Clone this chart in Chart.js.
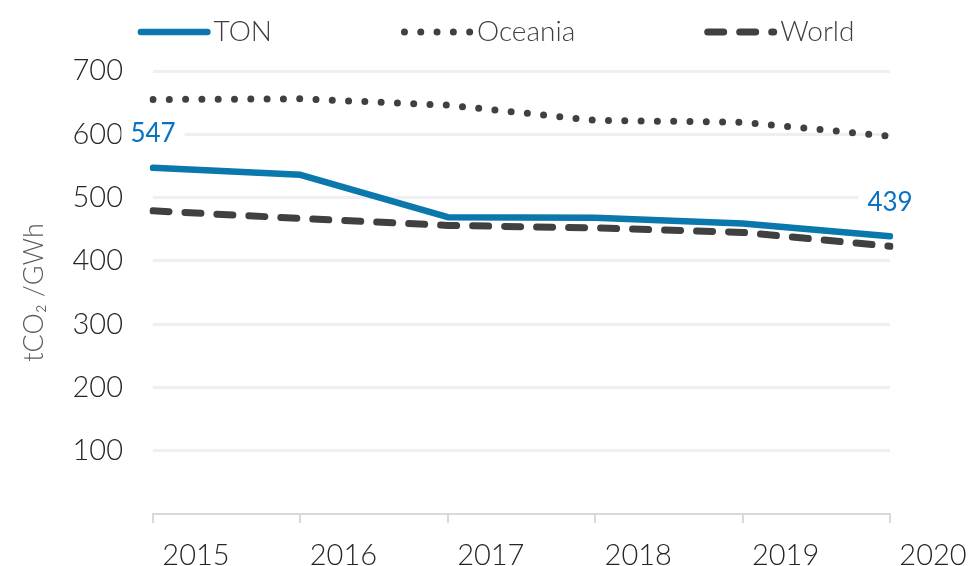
<!DOCTYPE html>
<html>
<head>
<meta charset="utf-8">
<script src="https://cdn.jsdelivr.net/npm/chart.js@4.4.0/dist/chart.umd.min.js"></script>
<style>
  html, body { margin: 0; padding: 0; background: #fff; }
  #wrap { width: 973px; height: 566px; position: relative; }
</style>
</head>
<body>
<div id="wrap"><canvas id="myChart"></canvas></div>
<script>
var years = ['2015', '2016', '2017', '2018', '2019', '2020'];
var ton = [547, 536, 469, 468, 459, 439];
var oceania = [655, 656, 646, 622, 619, 597];
var world = [479, 467, 456, 452, 445, 423];
var labelIdx = [0, 5];   // points of TON that carry a value label

var FONT = 'Lato';

// value labels above the first and last TON point, on a white box
var pointLabels = {
  id: 'pointLabels',
  afterDatasetsDraw: function(chart) {
    var ctx = chart.ctx;
    var meta = chart.getDatasetMeta(0);
    ctx.save();
    ctx.font = '26px ' + FONT;
    ctx.textAlign = 'center';
    ctx.textBaseline = 'middle';
    labelIdx.forEach(function(i) {
      var pt = meta.data[i];
      var txt = String(ton[i]);
      var w = ctx.measureText(txt).width;
      var y = pt.y - 34;
      ctx.fillStyle = '#ffffff';
      ctx.fillRect(pt.x - w / 2 - 9, y - 14, w + 18, 28);
      ctx.fillStyle = '#0a72c2';
      ctx.fillText(txt, pt.x, y);
    });
    ctx.restore();
  }
};

// legend drawn by hand so the sample sits right next to its text
var lineLegend = {
  id: 'lineLegend',
  afterDraw: function(chart) {
    var ctx = chart.ctx;
    var sets = chart.data.datasets;
    var sample = 73, gap = 3, spacing = 129;
    ctx.save();
    ctx.font = '300 28px ' + FONT;
    ctx.textBaseline = 'middle';
    ctx.textAlign = 'left';
    var total = 0;
    sets.forEach(function(ds, i) {
      total += sample + gap + ctx.measureText(ds.label).width + (i ? spacing : 0);
    });
    var x = 496 - total / 2, y = 32;
    sets.forEach(function(ds) {
      var bw = ds.borderWidth;
      ctx.beginPath();
      ctx.strokeStyle = ds.borderColor;
      ctx.lineWidth = bw;
      ctx.lineCap = 'round';
      ctx.setLineDash(ds.borderDash || []);
      ctx.moveTo(x + bw / 2, y);
      ctx.lineTo(x + sample - bw / 2, y);
      ctx.stroke();
      ctx.setLineDash([]);
      ctx.fillStyle = '#404040';
      ctx.fillText(ds.label, x + sample + gap, y);
      x += sample + gap + ctx.measureText(ds.label).width + spacing;
    });
    ctx.restore();
  }
};

new Chart(document.getElementById('myChart'), {
  type: 'line',
  data: {
    labels: years,
    datasets: [
      {
        label: 'TON',
        data: ton,
        borderColor: '#0a77ad',
        borderWidth: 6.5,
        borderCapStyle: 'round',
        borderJoinStyle: 'round',
        pointRadius: 0,
        tension: 0,
        fill: false
      },
      {
        label: 'Oceania',
        data: oceania,
        borderColor: '#404040',
        borderWidth: 7,
        borderDash: [0, 16.3],
        borderCapStyle: 'round',
        pointRadius: 0,
        tension: 0,
        fill: false
      },
      {
        label: 'World',
        data: world,
        borderColor: '#404040',
        borderWidth: 7,
        borderDash: [16, 16],
        borderCapStyle: 'round',
        pointRadius: 0,
        tension: 0,
        fill: false
      }
    ]
  },
  options: {
    responsive: true,
    maintainAspectRatio: false,
    animation: false,
    layout: { padding: { top: 71, right: 83, bottom: 0, left: 0 } },
    plugins: {
      legend: { display: false },
      tooltip: { enabled: false }
    },
    scales: {
      x: {
        offset: false,
        afterFit: function(scale) { scale.height = 52; },
        grid: {
          display: true,
          drawOnChartArea: false,
          drawTicks: true,
          tickLength: 9,
          color: '#d9d9d9',
          lineWidth: 2
        },
        border: { display: true, color: '#d9d9d9', width: 2 },
        ticks: {
          labelOffset: 43,
          padding: 15,
          maxRotation: 0,
          autoSkip: false,
          color: '#262626',
          font: { family: FONT, size: 29, weight: '300' }
        }
      },
      y: {
        min: 0,
        max: 700,
        afterFit: function(scale) { scale.width = 153; },
        grid: {
          drawTicks: false,
          lineWidth: 3,
          color: function(c) { return c.tick && c.tick.value === 0 ? 'rgba(0,0,0,0)' : '#efefef'; }
        },
        border: { display: false },
        ticks: {
          stepSize: 100,
          padding: 30,
          color: '#262626',
          font: { family: FONT, size: 29, weight: '300' },
          callback: function(v) { return v === 0 ? '' : v; }
        },
        title: {
          display: true,
          text: 'tCO₂ /GWh',
          color: '#595959',
          padding: { top: 18, bottom: 0 },
          font: { family: FONT, size: 27, weight: '300' }
        }
      }
    }
  },
  plugins: [pointLabels, lineLegend]
});
</script>
</body>
</html>
